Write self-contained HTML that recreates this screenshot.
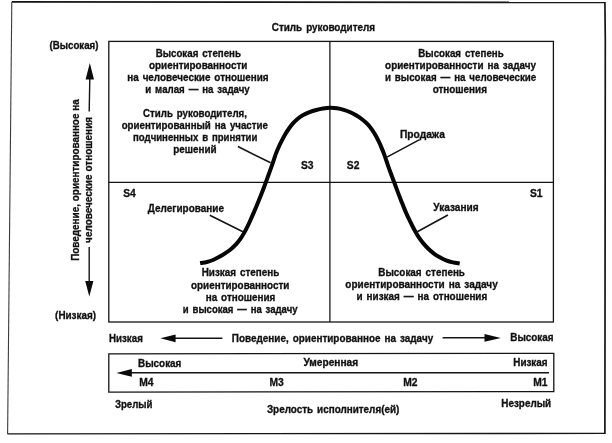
<!DOCTYPE html>
<html lang="ru">
<head>
<meta charset="utf-8">
<title>Стиль руководителя</title>
<style>
html,body{margin:0;padding:0;background:#fff;}
body{width:612px;height:443px;overflow:hidden;}
svg{display:block;}
text{font-family:"Liberation Sans",sans-serif;font-size:9.9px;font-weight:bold;fill:#111;stroke:#111;stroke-width:0.3px;word-spacing:1.2px;}
text.v{word-spacing:0.2px;}
text.l{font-size:10.3px;}
.m{text-anchor:middle;}
.e{text-anchor:end;}
.ln{stroke:#141414;fill:none;}
.cv{stroke:#060606;fill:none;}
</style>
</head>
<body>
<svg width="612" height="443" viewBox="0 0 612 443">
<rect x="0" y="0" width="612" height="443" fill="#fff"/>

<!-- outer frame -->
<path class="ln" stroke-width="1.8" d="M11.8 1.9 L604.9 2.4"/>
<path class="ln" stroke-width="1.7" d="M604.9 2 L605.3 40 L604.9 434"/>
<path class="ln" stroke-width="1.35" d="M605 433.4 L7.4 433.9"/>
<path class="ln" style="stroke:#3c3c3c" stroke-width="1.1" d="M7.6 434 L11.8 2"/>

<!-- main grid -->
<rect class="ln" stroke-width="1.3" x="108.8" y="41.4" width="444.6" height="280.6"/>
<path class="ln" stroke-width="1.25" d="M329.9 41.4 V322 M108.8 182.3 H553.4"/>

<!-- bell curve -->
<path class="cv" stroke-width="4" d="M200.10 263.10 C201.25 262.92 204.75 262.55 207.00 262.00 C209.26 261.44 211.48 260.66 213.62 259.76 C215.77 258.86 217.84 257.76 219.87 256.61 C221.90 255.46 223.86 254.18 225.78 252.86 C227.70 251.54 229.61 250.17 231.39 248.67 C233.16 247.16 234.86 245.54 236.42 243.82 C237.98 242.09 239.41 240.22 240.74 238.31 C242.08 236.41 243.29 234.40 244.44 232.37 C245.59 230.34 246.63 228.25 247.66 226.15 C248.68 224.05 249.63 221.92 250.59 219.79 C251.55 217.66 252.48 215.52 253.41 213.38 C254.34 211.24 255.25 209.09 256.15 206.93 C257.05 204.78 257.94 202.62 258.81 200.46 C259.69 198.29 260.55 196.12 261.40 193.95 C262.25 191.77 263.09 189.60 263.92 187.41 C264.75 185.23 265.56 183.04 266.37 180.85 C267.18 178.66 267.96 176.46 268.76 174.27 C269.56 172.07 270.38 169.89 271.15 167.69 C271.93 165.48 272.67 163.27 273.41 161.06 C274.16 158.85 274.82 156.60 275.63 154.42 C276.45 152.23 277.34 150.07 278.28 147.94 C279.22 145.80 280.24 143.69 281.28 141.61 C282.33 139.52 283.38 137.44 284.55 135.42 C285.72 133.40 286.97 131.42 288.30 129.51 C289.63 127.59 291.01 125.69 292.54 123.94 C294.06 122.18 295.66 120.46 297.44 118.97 C299.21 117.49 301.16 116.16 303.18 115.02 C305.20 113.88 307.37 112.97 309.55 112.14 C311.72 111.31 313.97 110.64 316.22 110.04 C318.48 109.44 320.76 108.92 323.06 108.54 C325.36 108.16 327.69 107.83 330.02 107.78 C332.34 107.73 334.70 107.88 337.00 108.22 C339.30 108.55 341.58 109.13 343.81 109.80 C346.04 110.47 348.24 111.29 350.36 112.25 C352.48 113.21 354.54 114.33 356.53 115.54 C358.52 116.75 360.46 118.08 362.30 119.50 C364.14 120.93 365.95 122.44 367.56 124.12 C369.17 125.79 370.62 127.65 371.97 129.55 C373.33 131.44 374.53 133.45 375.68 135.49 C376.82 137.52 377.84 139.62 378.84 141.73 C379.85 143.84 380.79 145.98 381.69 148.13 C382.60 150.28 383.46 152.45 384.27 154.64 C385.08 156.83 385.79 159.05 386.55 161.26 C387.31 163.47 388.03 165.69 388.81 167.89 C389.59 170.09 390.43 172.27 391.25 174.45 C392.06 176.64 392.88 178.83 393.69 181.02 C394.51 183.20 395.33 185.39 396.15 187.58 C396.97 189.76 397.77 191.95 398.61 194.13 C399.44 196.31 400.30 198.48 401.15 200.66 C402.01 202.83 402.85 205.01 403.73 207.17 C404.62 209.33 405.50 211.49 406.45 213.62 C407.39 215.76 408.38 217.88 409.39 219.98 C410.40 222.08 411.43 224.18 412.51 226.25 C413.59 228.32 414.68 230.38 415.85 232.40 C417.02 234.42 418.22 236.43 419.54 238.35 C420.86 240.27 422.28 242.14 423.79 243.91 C425.30 245.69 426.90 247.41 428.59 249.01 C430.28 250.61 432.07 252.14 433.93 253.52 C435.80 254.91 437.77 256.18 439.79 257.31 C441.81 258.45 443.91 259.50 446.08 260.34 C448.24 261.19 450.50 261.88 452.77 262.39 C455.04 262.90 458.55 263.23 459.70 263.40"/>

<!-- pointer lines -->
<path class="ln" stroke-width="1.55" d="M237.9 146.5 L270.6 162.8 M209.8 215.2 L242.9 231.8 M419.6 139.6 L386 157.6 M447.9 215 L416.4 232.3"/>

<!-- axis arrows -->
<path class="ln" stroke-width="1.4" d="M89.2 111.5 L89.8 79 M89.2 246.9 V282"/>
<path fill="#0a0a0a" d="M89.8 63 L94 79.5 L85.6 79.5 Z M89.3 296.4 L85.2 281 L93.4 281 Z"/>
<path class="ln" stroke-width="1.4" d="M175 338.3 H222.4 M442.6 337.8 H485"/>
<path fill="#0a0a0a" d="M160.4 338.3 L175.6 334.4 L175.6 342.2 Z M500.8 337.9 L484.5 334 L484.5 341.8 Z"/>

<!-- bottom box -->
<path class="ln" stroke-width="1.3" d="M108.8 353.8 L553.8 353.4 L553.8 391.5 L108.8 392.2 Z"/>
<path class="ln" stroke-width="1.5" d="M131 372.8 H549"/>
<path fill="#0a0a0a" d="M116.4 372.9 L131.8 369.1 L131.8 376.7 Z"/>

<!-- labels -->
<text class="m" transform="translate(323.4 31.2) scale(1 1.05)">Стиль руководителя</text>
<text class="m" transform="translate(198.3 57) scale(0.985 1.05)">Высокая степень</text>
<text class="m" transform="translate(198.2 69.1) scale(1 1.05)">ориентированности</text>
<text class="m" transform="translate(197.9 81.4) scale(1 1.05)">на человеческие отношения</text>
<text class="m" transform="translate(197.5 93.3) scale(0.98 1.05)">и малая — на задачу</text>
<text class="m" transform="translate(195 116.6) scale(0.98 1.05)">Стиль руководителя,</text>
<text class="m" transform="translate(194.8 128.9) scale(0.985 1.05)">ориентированный на участие</text>
<text class="m" transform="translate(195.2 140.9) scale(0.97 1.05)">подчиненных в принятии</text>
<text class="m" transform="translate(194.9 153) scale(1 1.05)">решений</text>
<text class="m" transform="translate(461 57) scale(0.985 1.05)">Высокая степень</text>
<text class="m" transform="translate(460.5 68.9) scale(1 1.05)">ориентированности на задачу</text>
<text class="m" transform="translate(460.6 80.8) scale(0.987 1.05)">и высокая — на человеческие</text>
<text class="m" transform="translate(459.8 92.8) scale(1 1.05)">отношения</text>
<text transform="translate(399.9 138.4) scale(1.035 1.05)">Продажа</text>
<text transform="translate(433.3 211.3) scale(1.02 1.05)">Указания</text>
<text transform="translate(147.8 212.2) scale(1.008 1.05)">Делегирование</text>
<text class="l" transform="translate(300.9 169.3) scale(1 1.04)">S3</text>
<text class="l" transform="translate(346.8 169.4) scale(1 1.04)">S2</text>
<text class="l" transform="translate(123.2 196.8) scale(1 1.04)">S4</text>
<text class="l" transform="translate(530 196.5) scale(1 1.04)">S1</text>
<text class="m" transform="translate(240.5 275.6) scale(1 1.05)">Низкая степень</text>
<text class="m" transform="translate(240.2 288.7) scale(1 1.05)">ориентированности</text>
<text class="m" transform="translate(240.5 300.5) scale(1 1.05)">на отношения</text>
<text class="m" transform="translate(240.2 312.5) scale(0.968 1.05)">и высокая — на задачу</text>
<text class="m" transform="translate(421.6 276) scale(1 1.05)">Высокая степень</text>
<text class="m" transform="translate(421.5 288) scale(1.012 1.05)">ориентированности на задачу</text>
<text class="m" transform="translate(421.9 299.8) scale(1 1.05)">и низкая — на отношения</text>
<text transform="translate(49.5 48.8) scale(0.98 1.05)">(Высокая)</text>
<text transform="translate(55.1 318.5) scale(1 1.05)">(Низкая)</text>
<text class="v" transform="translate(79 260.8) rotate(-90) scale(1 1.05)">Поведение, ориентированное на</text>
<text class="v" transform="translate(91.8 242.9) rotate(-90) scale(1.01 1.05)">человеческие отношения</text>
<text transform="translate(109 341.8) scale(0.985 1.05)">Низкая</text>
<text transform="translate(231.8 341.8) scale(1.004 1.05)">Поведение, ориентированное на задачу</text>
<text class="e" transform="translate(553.6 341.4) scale(1 1.05)">Высокая</text>
<text transform="translate(138 366.8) scale(1 1.05)">Высокая</text>
<text transform="translate(303.4 365.8) scale(1.03 1.05)">Умеренная</text>
<text class="e" transform="translate(547.6 366.4) scale(1 1.05)">Низкая</text>
<text class="l" transform="translate(139.2 385.7) scale(1 1.04)">M4</text>
<text class="l" transform="translate(269.4 385.8) scale(1 1.04)">M3</text>
<text class="l" transform="translate(403.2 385.8) scale(1 1.04)">M2</text>
<text class="l e" transform="translate(547.6 385.6) scale(1 1.04)">M1</text>
<text transform="translate(114.9 408) scale(0.975 1.05)">Зрелый</text>
<text transform="translate(266.9 412.7) scale(1 1.05)">Зрелость исполнителя(ей)</text>
<text class="e" transform="translate(551.2 407.4) scale(1 1.05)">Незрелый</text>
</svg>
</body>
</html>
